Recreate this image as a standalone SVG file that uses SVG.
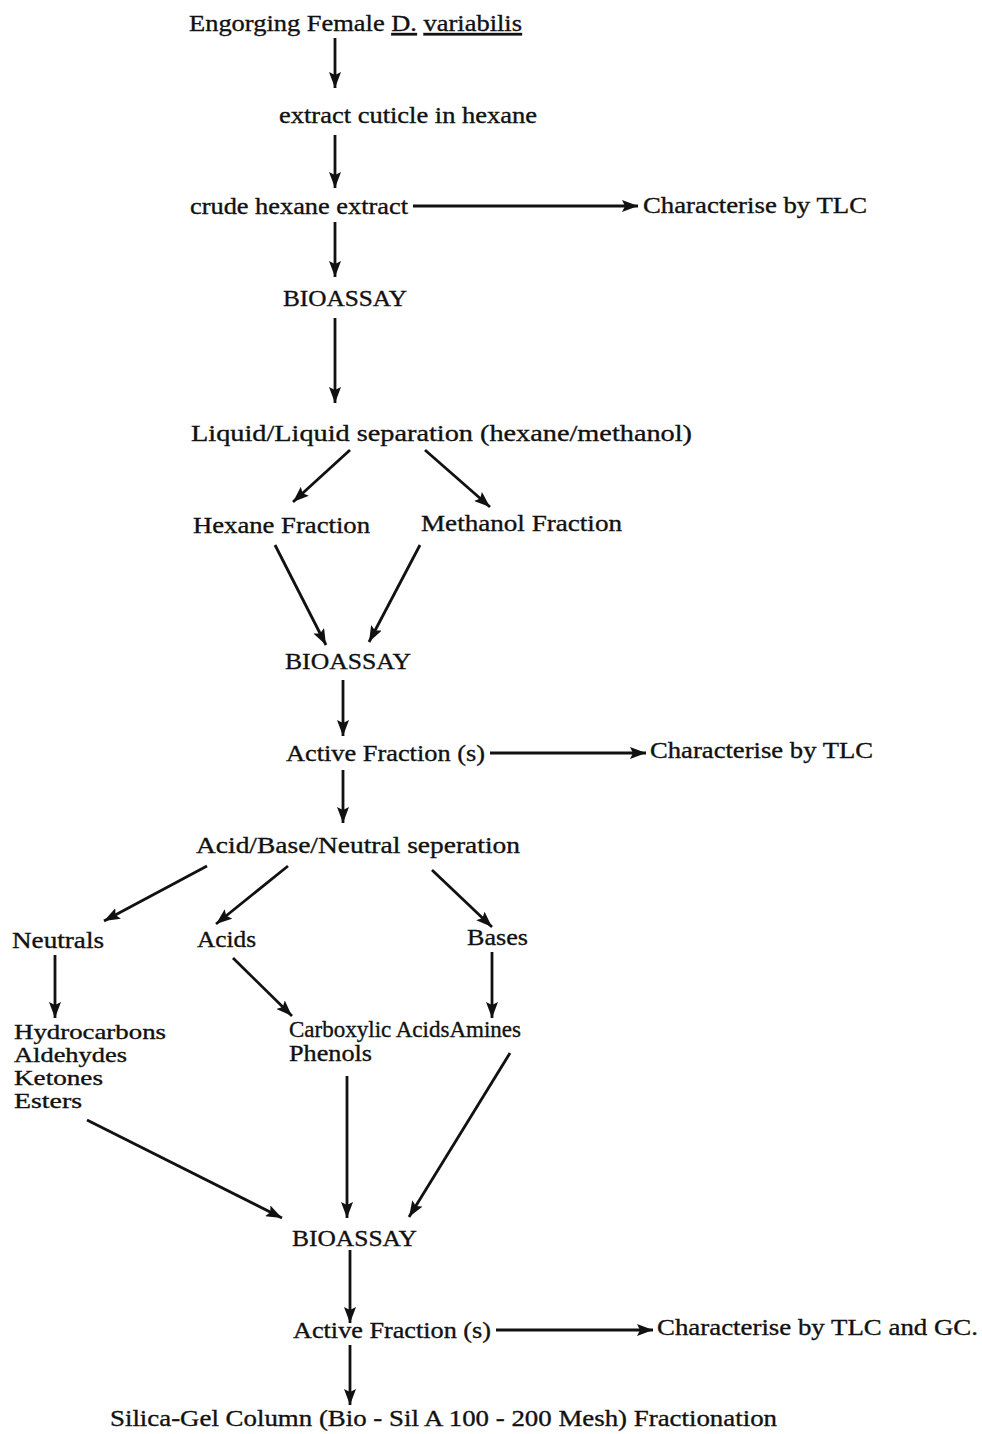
<svg xmlns="http://www.w3.org/2000/svg" width="982" height="1434" viewBox="0 0 982 1434">
  <style>
    text { font-family: "Liberation Serif", "Times New Roman", serif; font-size: 24px; fill: #111; stroke: #111; stroke-width: 0.35; }
    .list { font-size: 21px; }
    .c { stroke: #111; stroke-width: 2.8; fill: none; marker-end: url(#ah); }
  </style>
  <defs>
    <marker id="ah" markerUnits="userSpaceOnUse" markerWidth="18" markerHeight="12" refX="16" refY="6" orient="auto">
      <path d="M0,0 L16,6 L0,12 L3,6 Z" fill="#111"/>
    </marker>
  </defs>
  <rect width="982" height="1434" fill="#fff"/>

  <g id="connectors">
    <line class="c" x1="335" y1="38" x2="335" y2="88"/>
    <line class="c" x1="335" y1="135" x2="335" y2="188"/>
    <line class="c" x1="413" y1="206" x2="638" y2="206"/>
    <line class="c" x1="335" y1="222" x2="335" y2="277"/>
    <line class="c" x1="335" y1="318" x2="335" y2="403"/>
    <line class="c" x1="350" y1="450" x2="293" y2="502"/>
    <line class="c" x1="425" y1="450" x2="490" y2="507"/>
    <line class="c" x1="275" y1="545" x2="326" y2="645"/>
    <line class="c" x1="420" y1="545" x2="369" y2="642"/>
    <line class="c" x1="343" y1="680" x2="343" y2="736"/>
    <line class="c" x1="490" y1="753" x2="646" y2="753"/>
    <line class="c" x1="343" y1="770" x2="343" y2="823"/>
    <line class="c" x1="207" y1="866" x2="104" y2="921"/>
    <line class="c" x1="288" y1="866" x2="216" y2="924"/>
    <line class="c" x1="432" y1="870" x2="492" y2="927"/>
    <line class="c" x1="55" y1="955" x2="55" y2="1018"/>
    <line class="c" x1="233" y1="958" x2="292" y2="1016"/>
    <line class="c" x1="492" y1="952" x2="492" y2="1018"/>
    <line class="c" x1="87" y1="1120" x2="282" y2="1218"/>
    <line class="c" x1="347" y1="1076" x2="347" y2="1218"/>
    <line class="c" x1="510" y1="1053" x2="409" y2="1217"/>
    <line class="c" x1="350" y1="1250" x2="350" y2="1323"/>
    <line class="c" x1="496" y1="1330" x2="653" y2="1330"/>
    <line class="c" x1="350" y1="1345" x2="350" y2="1405"/>
  </g>

  <g id="n-source"><text x="189" y="31" textLength="333" lengthAdjust="spacingAndGlyphs">Engorging Female <tspan text-decoration="underline">D.</tspan> <tspan text-decoration="underline">variabilis</tspan></text></g>
  <g id="n-extract"><text x="279" y="123" textLength="258" lengthAdjust="spacingAndGlyphs">extract cuticle in hexane</text></g>
  <g id="n-crude"><text x="190" y="214" textLength="218" lengthAdjust="spacingAndGlyphs">crude hexane extract</text></g>
  <g id="n-tlc1"><text x="643" y="213" textLength="224" lengthAdjust="spacingAndGlyphs">Characterise by TLC</text></g>
  <g id="n-bioassay1"><text x="283" y="306" textLength="124" lengthAdjust="spacingAndGlyphs">BIOASSAY</text></g>
  <g id="n-liquid"><text x="191" y="441" textLength="501" lengthAdjust="spacingAndGlyphs">Liquid/Liquid separation (hexane/methanol)</text></g>
  <g id="n-hexane"><text x="193" y="533" textLength="177" lengthAdjust="spacingAndGlyphs">Hexane Fraction</text></g>
  <g id="n-methanol"><text x="421" y="531" textLength="201" lengthAdjust="spacingAndGlyphs">Methanol Fraction</text></g>
  <g id="n-bioassay2"><text x="285" y="669" textLength="126" lengthAdjust="spacingAndGlyphs">BIOASSAY</text></g>
  <g id="n-active1"><text x="286" y="761" textLength="199" lengthAdjust="spacingAndGlyphs">Active Fraction (s)</text></g>
  <g id="n-tlc2"><text x="650" y="758" textLength="223" lengthAdjust="spacingAndGlyphs">Characterise by TLC</text></g>
  <g id="n-abn"><text x="196" y="853" textLength="324" lengthAdjust="spacingAndGlyphs">Acid/Base/Neutral seperation</text></g>
  <g id="n-neutrals"><text x="12" y="948" textLength="92" lengthAdjust="spacingAndGlyphs">Neutrals</text></g>
  <g id="n-acids"><text x="197" y="947" textLength="59" lengthAdjust="spacingAndGlyphs">Acids</text></g>
  <g id="n-bases"><text x="467" y="945" textLength="61" lengthAdjust="spacingAndGlyphs">Bases</text></g>
  <g id="n-neutral-classes">
    <text class="list" x="14" y="1039" textLength="152" lengthAdjust="spacingAndGlyphs">Hydrocarbons</text>
    <text class="list" x="14" y="1062" textLength="113" lengthAdjust="spacingAndGlyphs">Aldehydes</text>
    <text class="list" x="14" y="1085" textLength="89" lengthAdjust="spacingAndGlyphs">Ketones</text>
    <text class="list" x="14" y="1108" textLength="68" lengthAdjust="spacingAndGlyphs">Esters</text>
  </g>
  <g id="n-acid-classes">
    <text x="289" y="1037" textLength="232" lengthAdjust="spacingAndGlyphs">Carboxylic AcidsAmines</text>
    <text x="289" y="1061" textLength="83" lengthAdjust="spacingAndGlyphs">Phenols</text>
  </g>
  <g id="n-bioassay3"><text x="292" y="1246" textLength="125" lengthAdjust="spacingAndGlyphs">BIOASSAY</text></g>
  <g id="n-active2"><text x="293" y="1338" textLength="198" lengthAdjust="spacingAndGlyphs">Active Fraction (s)</text></g>
  <g id="n-tlcgc"><text x="657" y="1335" textLength="321" lengthAdjust="spacingAndGlyphs">Characterise by TLC and GC.</text></g>
  <g id="n-silica"><text x="110" y="1426" textLength="667" lengthAdjust="spacingAndGlyphs">Silica-Gel Column (Bio - Sil A 100 - 200 Mesh) Fractionation</text></g>
</svg>
